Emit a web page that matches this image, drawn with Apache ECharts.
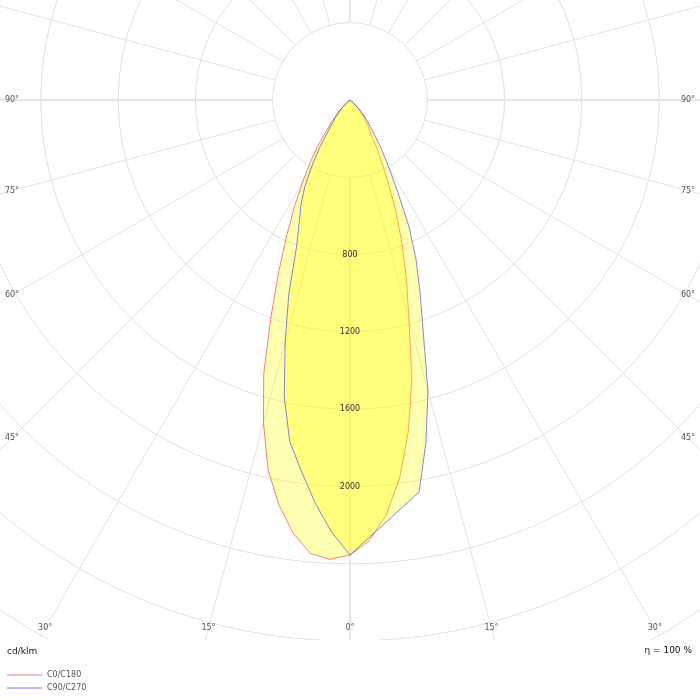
<!DOCTYPE html>
<html><head><meta charset="utf-8">
<script src="https://cdn.jsdelivr.net/npm/echarts@6/dist/echarts.min.js"></script>
<style>html,body{margin:0;padding:0;background:#fff}#c{width:700px;height:700px}</style>
</head><body><div id="c"></div>
<script>
// gamma angles (degrees from nadir) and luminous intensities (cd/klm)
const gammaAngles = [0, 2.5, 5, 7.5, 10, 12.5, 15, 17.5, 20, 22.5, 25, 27.5, 30, 32.5, 35, 40, 45, 50, 55, 60, 90];
const c0   = [2354, 2283, 2155, 1972, 1740, 1480, 1180, 972, 787, 617, 458, 343, 261, 190, 160, 105, 51, 15, 0, 0, 0];
const c180 = [2354, 2380, 2355, 2260, 2125, 1960, 1730, 1485, 1196, 966, 776, 623, 493, 382, 295, 147, 73, 20, 0, 0, 0];
const c90  = [2354, 2266, 2189, 2120, 2060, 1816, 1558, 1261, 1060, 893, 722, 531, 400, 308, 225, 135, 73, 20, 0, 0, 0];
const c270 = [2354, 2235, 2090, 1935, 1795, 1572, 1296, 1053, 809, 687, 600, 508, 395, 296, 198, 120, 60, 15, 0, 0, 0];
const radiusLabelValues = [800, 1200, 1600, 2000];
const angleLabelValues = [0, 15, 30, 45, 60, 75, 90];
const seriesNames = ['C0/C180', 'C90/C270'];
const unitLabel = 'cd/klm';
const efficiencyLabel = 'η = 100 %';

const CX = 350, CY = 100, R0 = 77.3, R = 618.4;
const FONT = 'DejaVu Sans';

function planeData(right, left) {
  const pts = [];
  for (let i = gammaAngles.length - 1; i >= 0; i--) pts.push([left[i], 360 - gammaAngles[i]]);
  for (let i = 1; i < gammaAngles.length; i++) pts.push([right[i], gammaAngles[i]]);
  return pts;
}

const chart = echarts.init(document.getElementById('c'), null, {renderer: 'canvas'});

// angle labels placed where spokes meet the frame
const graphics = [];
const BOT = 628, SIDE = 688;
angleLabelValues.forEach(a => {
  const t = a * Math.PI / 180;
  let x, y;
  const c = Math.cos(t), s = Math.sin(t);
  if (c > 1e-6 && CX + (BOT - CY) / c * s <= SIDE) { y = BOT; x = CX + (BOT - CY) / c * s; }
  else { x = SIDE; y = CY + (SIDE - CX) / s * c; }
  const xs = a === 0 ? [x] : [x, 2 * CX - x];
  xs.forEach(xx => graphics.push({type: 'text', x: xx, y: y, z: 101,
    style: {text: a + '°', font: '8px "' + FONT + '"', fill: '#555', align: 'center', verticalAlign: 'middle'}}));
});
graphics.unshift({type: 'rect', shape: {x: 0, y: 640, width: 700, height: 60}, style: {fill: '#fff'}, z: 100});
graphics.push({type: 'text', x: 7, y: 652, z: 101, style: {text: unitLabel, font: '9px "' + FONT + '"', fill: '#111', align: 'left', verticalAlign: 'middle'}});
graphics.push({type: 'text', x: 692, y: 651, z: 101, style: {text: efficiencyLabel, font: '9px "' + FONT + '"', fill: '#111', align: 'right', verticalAlign: 'middle'}});

const hiddenAxis = {axisLine: {show: false}, axisTick: {show: false}, axisLabel: {show: false}};

const option = {
  animation: false,
  polar: [
    {center: [CX, CY], radius: [R0, R]},
    {center: [CX, CY], radius: [0, R]},
    {center: [CX, CY], radius: [R0, R]}
  ],
  angleAxis: [
    Object.assign({polarIndex: 0, type: 'value', min: 0, max: 360, interval: 15, startAngle: 270, clockwise: false,
      splitLine: {show: true, lineStyle: {color: '#e2e2e2', width: 1}}}, hiddenAxis),
    Object.assign({polarIndex: 1, type: 'value', min: 0, max: 360, interval: 15, startAngle: 270, clockwise: false,
      splitLine: {show: false}}, hiddenAxis),
    Object.assign({polarIndex: 2, type: 'value', min: 0, max: 360, interval: 90, startAngle: 270, clockwise: false,
      splitLine: {show: true, lineStyle: {color: '#e4e4e4', width: 1.4}}}, hiddenAxis)
  ],
  radiusAxis: [
    Object.assign({polarIndex: 0, type: 'value', min: 400, max: 3200, interval: 400,
      splitLine: {show: true, lineStyle: {color: '#e0e0e0', width: 1}}}, hiddenAxis),
    {polarIndex: 1, type: 'value', min: 0, max: 3200, interval: 400, z: 10,
      axisLine: {show: false}, axisTick: {show: false}, splitLine: {show: false},
      axisLabel: {show: true, margin: 0, align: 'center', verticalAlign: 'middle', fontSize: 8, fontFamily: FONT, color: '#333',
        formatter: v => radiusLabelValues.includes(v) ? String(v) : ''}},
    Object.assign({polarIndex: 2, type: 'value', min: 400, max: 3200, interval: 400, splitLine: {show: false}}, hiddenAxis)
  ],
  legend: {
    orient: 'vertical', left: 7, top: 670, padding: 0, z: 120, icon: 'rect', itemWidth: 35, itemHeight: 2, itemGap: 3, itemTextGap: 9,
    textStyle: {fontSize: 8, fontFamily: FONT, color: '#555', lineHeight: 10},
    data: [
      {name: seriesNames[0], itemStyle: {color: '#ffbcbc'}},
      {name: seriesNames[1], itemStyle: {color: '#bcbcff'}}
    ]
  },
  graphic: graphics,
  series: [
    {name: seriesNames[0], type: 'line', coordinateSystem: 'polar', polarIndex: 1, data: planeData(c0, c180),
      symbol: 'none', clip: false, itemStyle: {color: '#ffbcbc'},
      lineStyle: {color: 'rgba(255,40,40,0.6)', width: 1}, areaStyle: {color: '#ffff00', opacity: 0.3}, z: 3},
    {name: seriesNames[1], type: 'line', coordinateSystem: 'polar', polarIndex: 1, data: planeData(c90, c270),
      symbol: 'none', clip: false, itemStyle: {color: '#bcbcff'},
      lineStyle: {color: 'rgba(50,50,230,0.6)', width: 1}, areaStyle: {color: '#ffff00', opacity: 0.3}, z: 4}
  ]
};
chart.setOption(option);
</script>
</body></html>
